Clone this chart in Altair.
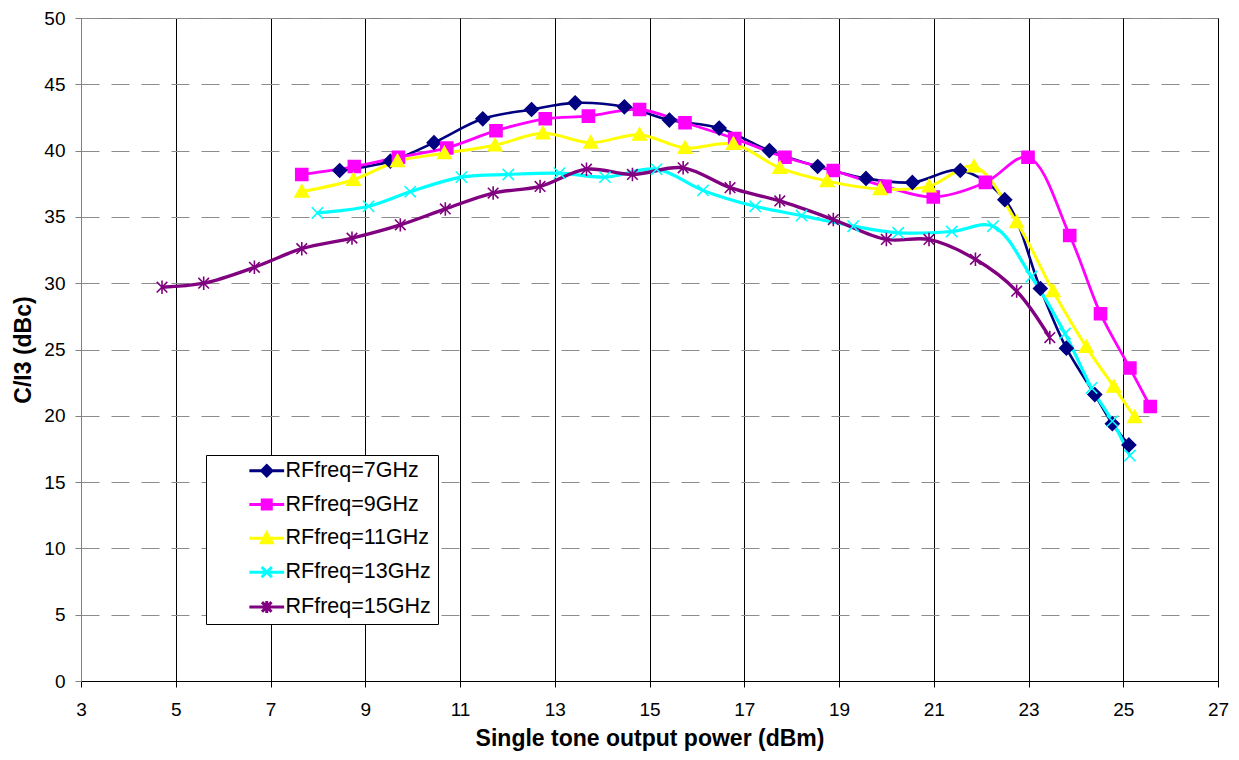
import altair as alt
import pandas as pd

series_names = ["RFfreq=7GHz", "RFfreq=9GHz", "RFfreq=11GHz", "RFfreq=13GHz", "RFfreq=15GHz"]
series_colors = ["#000080", "#FF00FF", "#FFFF00", "#00FFFF", "#800080"]
series_widths = [2.6, 3.4, 3.4, 3.4, 3.4]

x7 = [8.46, 9.53, 10.45, 11.48, 12.51, 13.43, 14.47, 15.42, 16.47, 17.53, 18.55, 19.57, 20.55, 21.56, 22.50, 23.25, 23.80, 24.40, 24.77, 25.12]
y7 = [38.5, 39.2, 40.6, 42.4, 43.1, 43.6, 43.3, 42.3, 41.7, 40.0, 38.8, 37.9, 37.6, 38.5, 36.3, 29.6, 25.1, 21.6, 19.4, 17.8]

x9 = [7.66, 8.77, 9.70, 10.72, 11.76, 12.80, 13.71, 14.79, 15.75, 16.80, 17.86, 18.88, 19.97, 20.99, 22.09, 22.99, 23.87, 24.52, 25.14, 25.57]
y9 = [38.2, 38.8, 39.5, 40.2, 41.5, 42.4, 42.6, 43.1, 42.1, 40.9, 39.5, 38.5, 37.3, 36.5, 37.6, 39.5, 33.6, 27.7, 23.6, 20.7]

x11 = [7.66, 8.75, 9.68, 10.67, 11.74, 12.75, 13.76, 14.79, 15.75, 16.77, 17.75, 18.75, 19.87, 20.90, 21.85, 22.75, 23.52, 24.22, 24.80, 25.24]
y11 = [36.9, 37.8, 39.2, 39.8, 40.4, 41.3, 40.6, 41.2, 40.2, 40.5, 38.7, 37.7, 37.1, 37.3, 38.8, 34.6, 29.4, 25.2, 22.2, 19.9]

x13 = [7.99, 9.07, 9.95, 11.03, 12.02, 13.10, 14.06, 15.15, 16.13, 17.23, 18.21, 19.30, 20.25, 21.38, 22.25, 23.06, 23.77, 24.33, 24.77, 25.14]
y13 = [35.3, 35.8, 36.9, 38.0, 38.2, 38.3, 38.0, 38.6, 37.0, 35.8, 35.1, 34.3, 33.8, 33.9, 34.3, 30.5, 26.2, 22.1, 19.6, 17.0]

x15 = [4.71, 5.59, 6.66, 7.66, 8.72, 9.74, 10.69, 11.70, 12.69, 13.67, 14.64, 15.71, 16.70, 17.75, 18.88, 20.00, 20.90, 21.88, 22.75, 23.45]
y15 = [29.7, 30.0, 31.2, 32.6, 33.4, 34.4, 35.6, 36.8, 37.3, 38.6, 38.2, 38.7, 37.2, 36.2, 34.8, 33.3, 33.3, 31.8, 29.4, 25.9]

x_ticks = list(range(3, 28, 2))
y_ticks = list(range(0, 51, 5))

# marker shapes (chart) and legend symbols (line + marker)
marker_paths = [
    "M0,-0.95L0.95,0L0,0.95L-0.95,0Z",
    "M-0.85,-0.85L0.85,-0.85L0.85,0.85L-0.85,0.85Z",
    "M0,-0.95L0.95,0.75L-0.95,0.75Z",
    "M-0.8,-0.8L0.8,0.8M0.8,-0.8L-0.8,0.8",
    "M-0.75,-0.75L0.75,0.75M0.75,-0.75L-0.75,0.75M0,-0.95L0,0.95",
]
legend_paths = [
    "M-2.9,0L2.9,0M0,-0.85L0.85,0L0,0.85L-0.85,0Z",
    "M-2.9,0L2.9,0M-0.75,-0.75L0.75,-0.75L0.75,0.75L-0.75,0.75Z",
    "M-2.9,0L2.9,0M0,-0.9L0.9,0.75L-0.9,0.75Z",
    "M-2.9,0L2.9,0M-0.85,-0.85L0.85,0.85M0.85,-0.85L-0.85,0.85",
    "M-2.9,0L2.9,0M-0.8,-0.8L0.8,0.8M0.8,-0.8L-0.8,0.8M0,-1L0,1",
]

rows = []
for name, xs, ys in zip(series_names, [x7, x9, x11, x13, x15], [y7, y9, y11, y13, y15]):
    for i, (a, b) in enumerate(zip(xs, ys)):
        rows.append({"series": name, "x": a, "y": b, "idx": i})
df = pd.DataFrame(rows)

FONT = "Liberation Sans"

x_enc = alt.X(
    "x:Q",
    scale=alt.Scale(domain=[3, 27], nice=False, zero=False),
    axis=alt.Axis(
        values=x_ticks, grid=True, gridColor="black", gridWidth=1,
        domainColor="black", tickColor="black", tickSize=6,
        labelFontSize=19, labelPadding=13, labelFlush=False,
        title="Single tone output power (dBm)", titleFontSize=23,
        titleFontWeight="bold", titlePadding=8,
    ),
)
y_enc = alt.Y(
    "y:Q",
    scale=alt.Scale(domain=[0, 50], nice=False),
    axis=alt.Axis(
        values=y_ticks, grid=True, gridColor="#8c8c8c", gridDash=[18, 12], gridWidth=1,
        domainColor="#808080", tickColor="#808080", tickSize=6,
        labelFontSize=19, labelPadding=10, labelFlush=False,
        title="C/I3 (dBc)", titleFontSize=23, titleFontWeight="bold", titlePadding=8,
    ),
)

color_scale = alt.Scale(domain=series_names, range=series_colors)

legend_def = alt.Legend(
    title="\u00a0" * 5, titleOrient="right", titleFontSize=21, titlePadding=2,
    orient="none", legendX=125, legendY=437,
    labelFont=FONT, labelFontSize=21.5, labelColor="black",
    symbolSize=144, symbolStrokeWidth=3, symbolOpacity=1,
    symbolOffset=45, labelOffset=8, padding=5, rowPadding=10.8,
    strokeColor="black", fillColor="white", labelLimit=400,
)

lines = alt.Chart(df).mark_line(interpolate="catmull-rom").encode(
    x=x_enc, y=y_enc,
    color=alt.Color("series:N", scale=color_scale, legend=None),
    strokeWidth=alt.StrokeWidth("series:N", scale=alt.Scale(domain=series_names, range=series_widths), legend=None),
    order="idx:Q",
)

points = alt.Chart(df).mark_point(filled=True, size=200, strokeWidth=1.6, opacity=1).encode(
    x="x:Q", y="y:Q",
    fill=alt.Fill("series:N", scale=color_scale, legend=None),
    stroke=alt.Stroke("series:N", scale=color_scale, legend=None),
    shape=alt.Shape("series:N", scale=alt.Scale(domain=series_names, range=marker_paths), legend=None),
)

legend_layer = alt.Chart(df).mark_point(filled=True, size=144, opacity=0).encode(
    x="x:Q", y="y:Q",
    fill=alt.Fill("series:N", scale=color_scale, legend=legend_def),
    stroke=alt.Stroke("series:N", scale=color_scale, legend=legend_def),
    shape=alt.Shape(
        "series:N",
        scale=alt.Scale(domain=series_names, range=legend_paths),
        legend=legend_def,
    ),
)

chart = alt.layer(lines, points, legend_layer).resolve_scale(
    shape="independent", fill="independent", stroke="independent"
).properties(
    width=1137, height=663,
    autosize=alt.AutoSizeParams(type="none"),
    padding={"left": 73, "top": 10, "right": 12, "bottom": 71},
    background="white",
).configure_view(stroke="#808080").configure_axis(
    labelFont=FONT, titleFont=FONT, labelColor="black", titleColor="black",
)

chart.save("out.html", embed_options={"renderer": "svg", "actions": False})
